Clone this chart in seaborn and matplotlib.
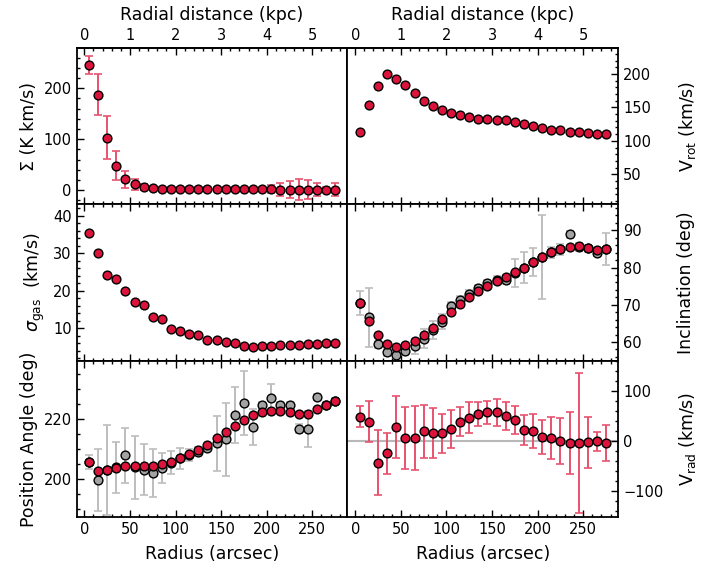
import numpy as np
import pandas as pd
import matplotlib
matplotlib.use("Agg")
import matplotlib.pyplot as plt
import seaborn as sns
from matplotlib.ticker import AutoMinorLocator, MultipleLocator, FixedLocator

# ---------------- data ----------------
radius = [5, 15, 25, 35, 45, 55, 65, 75, 85, 95, 105, 115, 125, 135,
          145, 155, 165, 175, 185, 195, 205, 215, 225, 235, 245, 255, 265, 275]

surf_dens = [246, 187, 103, 48, 21, 11, 6, 4, 3, 3, 3, 3, 3, 3,
             3, 3, 3, 2, 2, 2, 2, 1, 1, 1, 1, 1, 1, 1]
surf_dens_err = [18, 40, 42, 29, 16, 10, 5, 4, 3, 3, 3, 3, 3, 3,
                 3, 3, 3, 3, 3, 4, 7, 12, 17, 21, 18, 13, 5, 12]

vrot = [114, 154, 182, 200, 192, 183, 171, 159, 152, 146, 141, 139, 136, 133,
        133, 131, 131, 128, 125, 122, 119, 117, 116, 114, 113, 112, 111, 110]

disp = [35.4, 30.1, 24.2, 23.0, 20.0, 17.0, 16.1, 13.1, 12.4, 9.9, 9.4, 8.4, 8.1, 6.9,
        7.0, 6.3, 6.2, 5.2, 5.1, 5.4, 5.4, 5.5, 5.6, 5.7, 5.8, 5.9, 6.0, 6.1]

incl = [70.5, 65.7, 61.9, 59.6, 58.6, 59.1, 60.2, 61.9, 63.9, 66.1, 68.2, 70.3, 72.1, 73.7,
        75.1, 76.3, 77.6, 78.7, 80.0, 81.5, 82.8, 84.1, 84.9, 85.5, 85.7, 85.2, 84.6, 84.9]
incl_free = [70.5, 66.6, 59.4, 57.3, 56.6, 57.5, 58.9, 60.9, 63.2, 65.5, 69.8, 71.4, 72.9, 74.4,
             75.8, 76.7, 76.7, 78.5, 80.0, 81.5, 82.8, 84.1, 84.9, 88.9, 85.5, 85.2, 84.0, 84.9]
incl_free_err = [3.2, 8.0, 1.0, 1.0, 1.0, 1.0, 2.0, 2.5, 2.5, 2.0, 1.0, 1.0, 1.0, 1.0,
                 1.0, 1.0, 1.2, 3.8, 4.1, 3.8, 11.3, 1.5, 1.5, 1.0, 1.0, 1.0, 1.0, 4.3]

pa = [205.7, 202.9, 203.2, 203.9, 204.3, 204.3, 204.3, 204.6, 205.1, 205.9, 207.0, 208.3, 209.8, 211.6,
      213.7, 215.9, 217.9, 219.8, 221.3, 222.4, 222.9, 222.9, 222.4, 221.8, 221.9, 223.4, 224.9, 226.0]
pa_free = [205.7, 199.9, 203.2, 204.0, 208.0, 204.0, 203.2, 202.2, 203.8, 205.5, 207.0, 208.0, 209.2, 210.4,
           212.0, 213.3, 221.4, 225.4, 217.4, 224.7, 227.2, 224.9, 224.7, 216.8, 216.8, 227.4, 224.9, 226.0]
pa_free_err = [2.3, 10.3, 15.0, 8.6, 9.2, 10.5, 8.5, 8.0, 4.9, 3.8, 3.6, 2.0, 1.5, 1.0,
               9.2, 12.0, 9.2, 10.7, 6.0, 1.0, 4.7, 1.0, 1.0, 1.5, 6.0, 1.0, 1.0, 1.0]

vrad = [48.9, 39.0, -42.3, -24.0, 28.0, 5.9, 5.9, 20.2, 16.3, 16.3, 24.8, 39.0, 46.9, 54.0,
        58.0, 58.0, 50.8, 41.7, 23.5, 20.8, 8.5, 5.9, 0.0, -3.3, -3.3, -2.0, 0.0, -2.6]
vrad_err = [21, 41, 65, 41, 62, 62, 64, 53, 50, 39, 38, 29, 31, 24,
            23, 27, 28, 28, 30, 34, 34, 42, 46, 61, 140, 51, 19, 36]

kpc_ticks = [0, 1, 2, 3, 4, 5]
ARCSEC_PER_KPC = 50.0

# ---------------- style ----------------
sns.set_theme(style="ticks")
plt.rcParams["font.family"] = ["DejaVu Sans"]
plt.rcParams["mathtext.fontset"] = "dejavusans"
plt.rcParams["text.color"] = "black"
plt.rcParams["axes.labelcolor"] = "black"

RED = "#DC143C"
RED_ERR = "#E8536F"
GREY = "#A3A3A3"
GREY_ERR = "#BDBDBD"
TICK_FS = 10.5
LAB_FS = 12.5
MS = 40

fig, axes = plt.subplots(3, 2, figsize=(7.16, 5.68), dpi=100, sharex=True)
fig.subplots_adjust(left=0.107, right=0.8636, top=0.9155, bottom=0.0898,
                    hspace=0, wspace=0)


def draw(ax, y, yerr=None, grey=None, grey_err=None):
    if grey is not None:
        if grey_err is not None:
            ax.errorbar(radius, grey, yerr=grey_err, fmt="none", ecolor=GREY_ERR,
                        elinewidth=1.4, capsize=3, capthick=1.2, zorder=1)
        sns.scatterplot(x=radius, y=grey, ax=ax, color=GREY, edgecolor="black",
                        s=MS, linewidth=1, zorder=2, legend=False)
    if yerr is not None:
        ax.errorbar(radius, y, yerr=yerr, fmt="none", ecolor=RED_ERR,
                    elinewidth=1.4, capsize=3, capthick=1.2, zorder=3)
    sns.scatterplot(x=radius, y=y, ax=ax, color=RED, edgecolor="black",
                    s=MS, linewidth=1, zorder=4, legend=False)


draw(axes[0, 0], surf_dens, surf_dens_err)
draw(axes[0, 1], vrot)
draw(axes[1, 0], disp)
draw(axes[1, 1], incl, grey=incl_free, grey_err=incl_free_err)
draw(axes[2, 0], pa, grey=pa_free, grey_err=pa_free_err)
axes[2, 1].axhline(0, color="#B8B8B8", lw=1.5, zorder=0)
draw(axes[2, 1], vrad, vrad_err)

# limits
axes[0, 0].set_xlim(-8.5, 288.5)
axes[0, 0].set_ylim(-28, 279)
axes[0, 1].set_ylim(5, 239)
axes[1, 0].set_ylim(1.4, 43)
axes[1, 1].set_ylim(55, 97)
axes[2, 0].set_ylim(187.5, 239.5)
axes[2, 1].set_ylim(-151, 161)

axes[0, 0].yaxis.set_major_locator(MultipleLocator(100))
axes[0, 1].yaxis.set_major_locator(MultipleLocator(50))
axes[1, 0].yaxis.set_major_locator(MultipleLocator(10))
axes[1, 1].yaxis.set_major_locator(MultipleLocator(10))
axes[2, 0].yaxis.set_major_locator(MultipleLocator(20))
axes[2, 1].yaxis.set_major_locator(MultipleLocator(100))

for r in range(3):
    for c in range(2):
        ax = axes[r, c]
        ax.set_xlabel("")
        ax.set_ylabel("")
        ax.xaxis.set_major_locator(MultipleLocator(50))
        ax.xaxis.set_minor_locator(AutoMinorLocator(5))
        ax.yaxis.set_minor_locator(AutoMinorLocator())
        for sp in ax.spines.values():
            sp.set_visible(True)
            sp.set_linewidth(1.3)
            sp.set_color("black")
        ax.tick_params(which="both", direction="in", colors="black",
                       labelsize=TICK_FS, width=1.0, top=(r != 0), bottom=True)
        ax.tick_params(which="major", length=5)
        ax.tick_params(which="minor", length=2.5)
        if c == 0:
            ax.tick_params(which="both", left=True, right=False,
                           labelleft=True, labelright=False)
        else:
            ax.tick_params(which="both", left=False, right=True,
                           labelleft=False, labelright=True)
            ax.yaxis.set_label_position("right")
        if r == 2:
            ax.set_xlabel("Radius (arcsec)", fontsize=LAB_FS, labelpad=6)
        if r == 0:
            sec = ax.secondary_xaxis("top", functions=(lambda x: x / ARCSEC_PER_KPC,
                                                      lambda x: x * ARCSEC_PER_KPC))
            sec.xaxis.set_major_locator(FixedLocator(kpc_ticks))
            sec.xaxis.set_minor_locator(MultipleLocator(0.2))
            sec.tick_params(which="both", direction="in", colors="black",
                            labelsize=TICK_FS, width=1.0)
            sec.tick_params(which="major", length=5)
            sec.tick_params(which="minor", length=2.5)
            sec.spines["top"].set_linewidth(1.3)
            sec.set_xlabel("Radial distance (kpc)", fontsize=LAB_FS, labelpad=6)

axes[0, 0].set_ylabel("Σ (K km/s)", fontsize=LAB_FS)
axes[1, 0].set_ylabel(r"$\sigma_{\rm gas}$  (km/s)", fontsize=LAB_FS)
axes[2, 0].set_ylabel("Position Angle (deg)", fontsize=LAB_FS)
axes[0, 1].set_ylabel(r"V$_{\rm rot}$ (km/s)", fontsize=LAB_FS)
axes[1, 1].set_ylabel("Inclination (deg)", fontsize=LAB_FS)
axes[2, 1].set_ylabel(r"V$_{\rm rad}$ (km/s)", fontsize=LAB_FS)
for r in range(3):
    axes[r, 1].yaxis.set_label_coords(1.215, 0.5)

fig.savefig("out.png", dpi=100)
